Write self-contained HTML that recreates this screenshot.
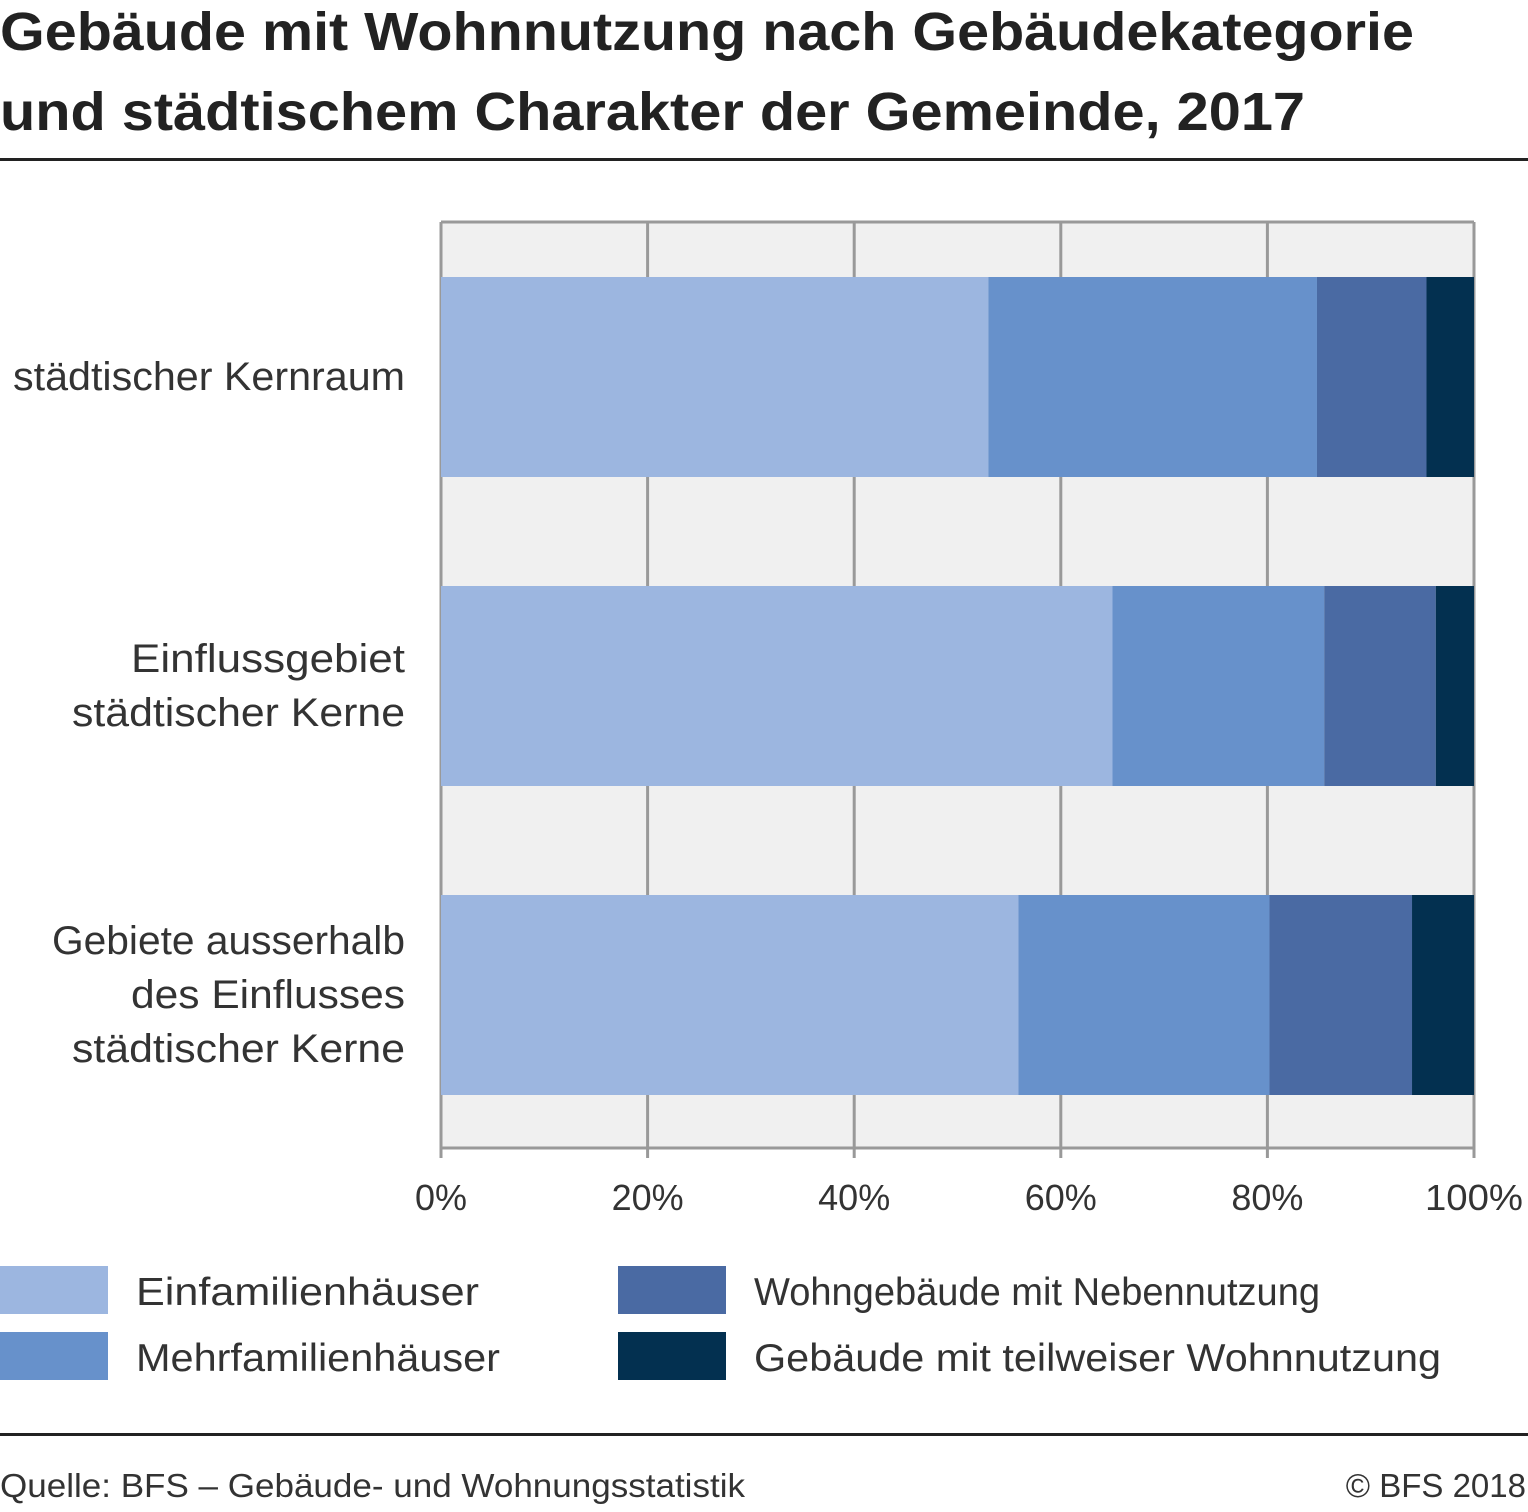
<!DOCTYPE html>
<html><head><meta charset="utf-8">
<style>
body{margin:0;background:#fff;width:1528px;height:1507px;overflow:hidden;font-family:"Liberation Sans",sans-serif;}
</style></head>
<body>
<svg width="1528" height="1507" xmlns="http://www.w3.org/2000/svg" font-family="Liberation Sans, sans-serif">
<g>
<text x="0" y="50" font-size="54" font-weight="bold" fill="#222" textLength="1414" lengthAdjust="spacingAndGlyphs">Gebäude mit Wohnnutzung nach Gebäudekategorie</text>
<text x="0" y="130" font-size="54" font-weight="bold" fill="#222" textLength="1305" lengthAdjust="spacingAndGlyphs">und städtischem Charakter der Gemeinde, 2017</text>
</g>
<rect x="0" y="158" width="1528" height="3" fill="#222"/>
<rect x="441" y="222" width="1033" height="926" fill="#f0f0f0"/>
<g id="grid"></g>
<g id="bars"></g>
<g id="labels"></g>
<g id="legend"></g>
<rect x="0" y="1433" width="1528" height="3" fill="#222"/>
<text x="0" y="1497" font-size="33" fill="#333" textLength="745" lengthAdjust="spacingAndGlyphs">Quelle: BFS – Gebäude- und Wohnungsstatistik</text>
<text x="1526" y="1497" font-size="33" fill="#333" text-anchor="end">© BFS 2018</text>
</svg>
<script>
const categories=[["städtischer Kernraum"],["Einflussgebiet","städtischer Kerne"],["Gebiete ausserhalb","des Einflusses","städtischer Kerne"]];
const seriesNames=["Einfamilienhäuser","Mehrfamilienhäuser","Wohngebäude mit Nebennutzung","Gebäude mit teilweiser Wohnnutzung"];
const einfamilien=[53.0,65.0,55.9];
const mehrfamilien=[31.8,20.5,24.3];
const nebennutzung=[10.6,10.8,13.8];
const teilweise=[4.6,3.7,6.0];
const ticks=[0,20,40,60,80,100];
const tickLabels=["0%","20%","40%","60%","80%","100%"];
const colors=["#9cb6e0","#6791cb","#4a6aa3","#033050"];
const NS="http://www.w3.org/2000/svg";
const x0=441,x1=1474,yTop=222,yBot=1148;
const xs=v=>x0+(x1-x0)*v/100;
const bandY=i=>277+i*309;
function mk(t,a,p){const e=document.createElementNS(NS,t);for(const k in a)e.setAttribute(k,a[k]);p.appendChild(e);return e;}
const grid=document.getElementById('grid');
ticks.forEach((t,i)=>{
 const l=mk('line',{x1:xs(t),x2:xs(t),y1:yTop,y2:yBot+10,stroke:'#999','stroke-width':3},grid);
 
 
 const tx=mk('text',{x:xs(t),y:1210,'font-size':36,fill:'#333','text-anchor':'middle'},grid);
 tx.textContent=tickLabels[i];
 if(i===0||i===ticks.length-1){tx.setAttribute('textLength',i===0?52:98);tx.setAttribute('lengthAdjust','spacingAndGlyphs');}
 
 
});
const plotTop=mk('line',{x1:x0,x2:x1,y1:yTop,y2:yTop,stroke:'#999','stroke-width':3},grid);


const plotBottom=mk('line',{x1:x0,x2:x1,y1:yBot,y2:yBot,stroke:'#999','stroke-width':3},grid);


const series=[einfamilien,mehrfamilien,nebennutzung,teilweise];
const bars=document.getElementById('bars');
const labelsG=document.getElementById('labels');
categories.forEach((c,i)=>{
 let acc=0;
 series.forEach((s,j)=>{
  const r=mk('rect',{x:xs(acc),y:bandY(i),width:xs(acc+s[i])-xs(acc),height:200,fill:colors[j]},bars);
  
  
  acc+=s[i];
 });
 const cy=bandY(i)+100, n=c.length;
 c.forEach((line,k)=>{
  const t=mk('text',{x:405,y:cy+13+(k-(n-1)/2)*54,'font-size':40,fill:'#333','text-anchor':'end'},labelsG);
  t.textContent=line;
  t.setAttribute('textLength',Math.round(line.length*19.6));
  t.setAttribute('lengthAdjust','spacingAndGlyphs');
  
  
 });
});
const lg=document.getElementById('legend');
seriesNames.forEach((n,j)=>{
 const lx=j<2?0:618, ly=j%2===0?1266:1332;
 const r=mk('rect',{x:lx,y:ly,width:108,height:48,fill:colors[j]},lg);
 
 
 const t=mk('text',{x:lx+136,y:ly+39,'font-size':39,fill:'#333'},lg);
 t.textContent=n;
 t.setAttribute('textLength',Math.round(n.length*20.2));
 t.setAttribute('lengthAdjust','spacingAndGlyphs');
 
 
});
</script>
</body></html>
